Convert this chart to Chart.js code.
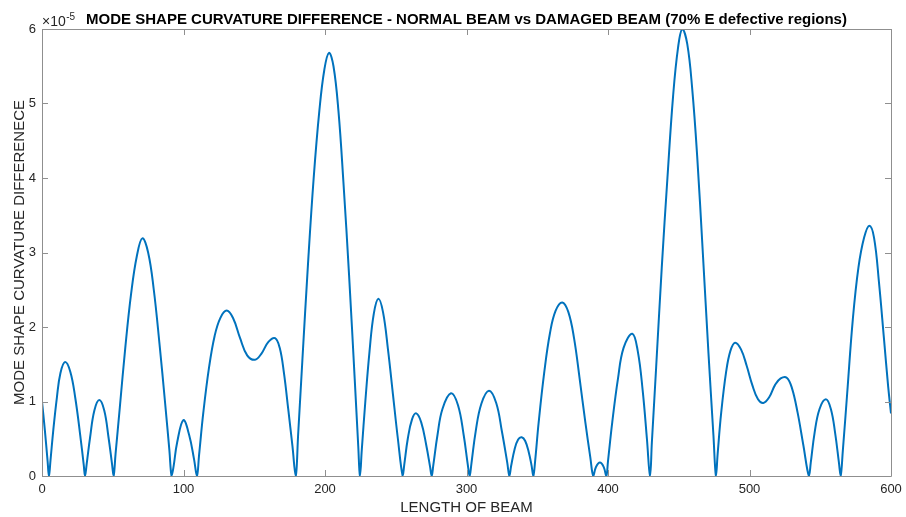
<!DOCTYPE html>
<html>
<head>
<meta charset="utf-8">
<script src="https://cdn.jsdelivr.net/npm/chart.js@4.4.1/dist/chart.umd.min.js"></script>
<style>
  html, body { margin: 0; padding: 0; background: #ffffff; }
  #wrap { width: 906px; height: 517px; position: relative; }
</style>
</head>
<body>
<div id="wrap"><canvas id="c" width="906" height="517"></canvas></div>
<script>
// ---- Data (values in units of 1e-5) ----
const chartTitle = 'MODE SHAPE CURVATURE DIFFERENCE - NORMAL BEAM vs DAMAGED BEAM (70% E defective regions)';
const xAxisLabel = 'LENGTH OF BEAM';
const yAxisLabel = 'MODE SHAPE CURVATURE DIFFERENECE';
const yExponent = '-5';
const xTicks = [0, 100, 200, 300, 400, 500, 600];
const yTicks = [0, 1, 2, 3, 4, 5, 6];

const beamPosition = [
  0, 2, 4, 4.9,
  6, 8, 10.5, 13, 16.3, 20, 23.5, 27, 29.5, 30.4,
  31.5, 34, 37, 40.5, 44, 47, 49.5, 50.6,
  52, 55, 59, 63, 67, 70.9, 75, 79, 83, 87, 90, 91.6,
  93, 95.5, 99.9, 104, 107.5, 109.5,
  111, 114, 118, 122, 126, 130.5, 135, 140, 145, 150.5, 155, 160, 164.7, 168, 171, 174, 177, 179.3,
  181, 184, 188, 192, 196, 199.5, 202.8, 206, 209.5, 213, 217, 221, 223.5, 224.7,
  226, 228.5, 231.5, 234.5, 237.7, 241, 244.5, 248, 251.5, 254.9,
  256, 258.5, 261.5, 264.5, 268, 271.5, 274.3, 275.4,
  276.5, 279.5, 283, 289, 294, 298, 301, 302.2,
  303.5, 306.5, 310.5, 315.9, 321, 325, 328.8, 330.3,
  331.5, 334, 336.5, 339, 341.5, 344, 346, 347.2,
  348.5, 351, 355, 359, 363, 367.7, 372, 376, 380, 384, 387.5, 389.6,
  391.5, 394.3, 397, 398.8,
  400, 403, 407, 411, 417.2, 421, 424.5, 427.5, 429.7,
  431, 434, 438, 442, 446, 449.5, 452.5, 456, 459.5, 463, 467, 471, 474.5, 476.3,
  477.5, 480, 483.5, 486.5, 489.8, 494, 498, 502, 506, 509.8, 514, 518, 522, 526.3, 530, 534, 538, 542,
  543.3, 546, 549.5, 554, 557.5, 560.5, 563.2, 564.4,
  566, 569, 573, 577, 581, 584.7, 588, 591.5, 595, 598, 600
];
const curvatureDiff = [
  1.00, 0.62, 0.19, 0,
  0.21, 0.62, 1.05, 1.38, 1.53, 1.40, 1.05, 0.55, 0.15, 0,
  0.15, 0.52, 0.88, 1.02, 0.88, 0.52, 0.16, 0,
  0.30, 0.92, 1.75, 2.45, 2.95, 3.19, 3.00, 2.50, 1.78, 0.98, 0.35, 0,
  0.13, 0.45, 0.75, 0.55, 0.22, 0,
  0.28, 0.85, 1.45, 1.88, 2.12, 2.22, 2.12, 1.85, 1.62, 1.56, 1.64, 1.80, 1.85, 1.72, 1.38, 0.90, 0.40, 0,
  0.55, 1.55, 2.85, 4.00, 4.90, 5.45, 5.68, 5.50, 4.90, 3.95, 2.70, 1.30, 0.40, 0,
  0.35, 1.00, 1.68, 2.18, 2.38, 2.20, 1.70, 1.10, 0.50, 0,
  0.15, 0.50, 0.76, 0.84, 0.72, 0.42, 0.12, 0,
  0.14, 0.55, 0.90, 1.11, 0.95, 0.55, 0.14, 0,
  0.17, 0.60, 0.97, 1.145, 0.98, 0.60, 0.18, 0,
  0.13, 0.36, 0.49, 0.52, 0.47, 0.32, 0.14, 0,
  0.20, 0.72, 1.40, 1.92, 2.22, 2.33, 2.20, 1.85, 1.30, 0.72, 0.25, 0,
  0.12, 0.18, 0.12, 0,
  0.20, 0.72, 1.30, 1.72, 1.91, 1.68, 1.15, 0.50, 0,
  0.45, 1.45, 2.80, 4.00, 5.10, 5.75, 6.00, 5.80, 5.20, 4.30, 3.00, 1.65, 0.55, 0,
  0.30, 0.85, 1.40, 1.68, 1.79, 1.70, 1.48, 1.22, 1.03, 0.98, 1.06, 1.22, 1.31, 1.32, 1.18, 0.85, 0.42, 0,
  0.18, 0.58, 0.90, 1.03, 0.90, 0.58, 0.18, 0,
  0.35, 1.10, 2.10, 2.80, 3.20, 3.36, 3.20, 2.60, 1.85, 1.20, 0.84
];

const points = beamPosition.map((x, i) => ({ x: x, y: curvatureDiff[i] }));

const TEXT_COLOR = '#262626';
const AXIS_COLOR = '#8f8f8f';
const FONT = '"Liberation Sans", Arial, Helvetica, sans-serif';

const framePlugin = {
  id: 'matlabFrame',
  afterDatasetsDraw(chart) {
    const ctx = chart.ctx;
    const a = chart.chartArea;
    const xs = chart.scales.x, ys = chart.scales.y;
    ctx.save();
    ctx.strokeStyle = AXIS_COLOR;
    ctx.lineWidth = 1;
    ctx.beginPath();
    ctx.rect(Math.round(a.left) + 0.5, Math.round(a.top) + 0.5,
             Math.round(a.right - a.left), Math.round(a.bottom - a.top));
    ctx.stroke();
    const tl = 6;
    ctx.beginPath();
    xTicks.forEach(v => {
      const px = Math.round(xs.getPixelForValue(v)) + 0.5;
      ctx.moveTo(px, a.bottom); ctx.lineTo(px, a.bottom - tl);
      ctx.moveTo(px, a.top); ctx.lineTo(px, a.top + tl);
    });
    yTicks.forEach(v => {
      const py = Math.round(ys.getPixelForValue(v)) + 0.5;
      ctx.moveTo(a.left, py); ctx.lineTo(a.left + tl, py);
      ctx.moveTo(a.right, py); ctx.lineTo(a.right - tl, py);
    });
    ctx.stroke();
    ctx.restore();
  },
  afterDraw(chart) {
    const ctx = chart.ctx;
    const a = chart.chartArea;
    ctx.save();
    // title
    ctx.fillStyle = '#000000';
    ctx.font = 'bold 15px ' + FONT;
    ctx.textAlign = 'center';
    ctx.textBaseline = 'alphabetic';
    ctx.fillText(chartTitle, (a.left + a.right) / 2, 23.5);
    // exponent label
    ctx.fillStyle = TEXT_COLOR;
    ctx.textAlign = 'left';
    ctx.font = '14px ' + FONT;
    const base = '\u00d710';
    ctx.fillText(base, a.left, 26);
    const w = ctx.measureText(base).width;
    ctx.font = '10px ' + FONT;
    ctx.fillText(yExponent, a.left + w + 0.5, 19.5);
    ctx.restore();
  }
};

new Chart(document.getElementById('c'), {
  type: 'line',
  data: {
    datasets: [{
      data: points,
      borderColor: '#0072BD',
      borderWidth: 2,
      pointRadius: 0,
      fill: false,
      tension: 0.4
    }]
  },
  options: {
    responsive: false,
    animation: false,
    layout: { padding: { top: 29, left: 0, right: 15, bottom: 0 } },
    plugins: {
      legend: { display: false },
      tooltip: { enabled: false },
      title: { display: false }
    },
    scales: {
      x: {
        type: 'linear',
        min: 0, max: 600,
        afterBuildTicks: (s) => { s.ticks = xTicks.map(v => ({ value: v })); },
        afterFit: (s) => { s.height = 41; s.paddingLeft = 0; s.paddingRight = 0; },
        grid: { display: false, drawTicks: false },
        border: { display: false },
        ticks: { color: TEXT_COLOR, font: { family: FONT, size: 13 }, padding: 6, maxRotation: 0 },
        title: { display: true, text: xAxisLabel, color: TEXT_COLOR,
                 font: { family: FONT, size: 15 }, padding: { top: 0, bottom: 0 } }
      },
      y: {
        type: 'linear',
        min: 0, max: 6,
        afterBuildTicks: (s) => { s.ticks = yTicks.map(v => ({ value: v })); },
        afterFit: (s) => { s.width = 42; s.paddingTop = 0; s.paddingBottom = 0; },
        grid: { display: false, drawTicks: false },
        border: { display: false },
        ticks: { color: TEXT_COLOR, font: { family: FONT, size: 13 }, padding: 6,
                 callback: (v) => String(v) },
        title: { display: true, text: yAxisLabel, color: TEXT_COLOR,
                 font: { family: FONT, size: 15 }, padding: { top: 11, bottom: 0 } }
      }
    }
  },
  plugins: [framePlugin]
});
</script>
</body>
</html>
